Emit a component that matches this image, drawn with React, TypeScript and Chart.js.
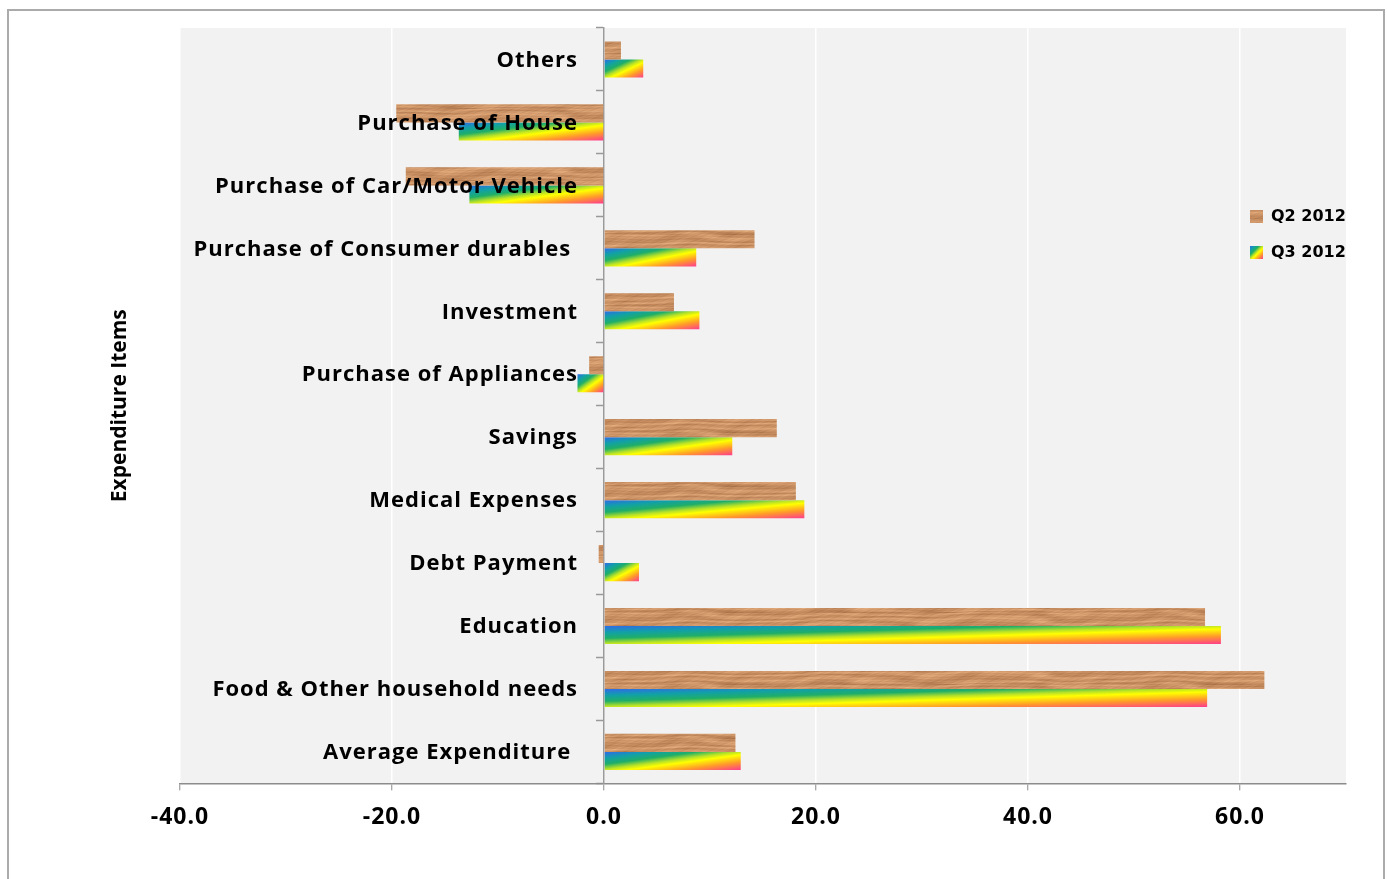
import React, { useEffect, useRef } from "react";
import { Chart, registerables } from "chart.js";

Chart.register(...registerables);

// Expenditure items, listed top to bottom
const categories = [
  "Others",
  "Purchase of House",
  "Purchase of Car/Motor Vehicle",
  "Purchase of Consumer durables ",
  "Investment",
  "Purchase of Appliances",
  "Savings",
  "Medical Expenses",
  "Debt Payment",
  "Education",
  "Food & Other household needs",
  "Average Expenditure ",
];

const q2_2012 = [1.6, -19.6, -18.7, 14.2, 6.6, -1.4, 16.3, 18.1, -0.5, 56.7, 62.3, 12.4];
const q3_2012 = [3.7, -13.7, -12.7, 8.7, 9.0, -2.5, 12.1, 18.9, 3.3, 58.2, 56.9, 12.9];

const seriesNames = ["Q2 2012", "Q3 2012"];
const xTickValues = [-40, -20, 0, 20, 40, 60];

const LABEL_FONT = "'Open Sans', 'DejaVu Sans', sans-serif";

// Rainbow fill stops (blue -> teal -> green -> yellow -> orange -> pink)
const rainbowStops: [number, string][] = [
  [0, "#2f6be8"],
  [0.18, "#11a0a8"],
  [0.34, "#1fae68"],
  [0.48, "#b8e228"],
  [0.58, "#ffff00"],
  [0.78, "#ff9a2a"],
  [1, "#ff3c8e"],
];

// Diagonal gradient stretched to the box, like a shape-scaled linear fill
function diagGradient(ctx: CanvasRenderingContext2D, l: number, t: number, w: number, h: number) {
  const k = w > 0 && h > 0 ? (2 * w * h) / (w * w + h * h) : 1;
  const g = ctx.createLinearGradient(l, t, l + h * k, t + w * k);
  rainbowStops.forEach(([o, c]) => g.addColorStop(o, c));
  return g;
}

// Seamless wood-grain texture built from periodic sine streaks
function makeWood(): CanvasPattern | string {
  const W = 480;
  const H = 18;
  const c = document.createElement("canvas");
  c.width = W;
  c.height = H;
  const g = c.getContext("2d");
  if (!g) return "#cb9468";
  const img = g.createImageData(W, H);
  const f = (n: number) => (2 * Math.PI * n) / W;
  for (let y = 0; y < H; y++) {
    for (let x = 0; x < W; x++) {
      const warp = Math.sin(x * f(3)) * 1.7 + Math.sin(x * f(1) + y * 0.3) * 2.1 + Math.sin(x * f(7) + 1.3) * 0.6;
      const grain = Math.sin(y * 0.95 + warp);
      const streak = Math.sin(y * 2.3 + Math.sin(x * f(5)) * 1.4);
      const fine = Math.sin(x * f(61) + y * 2.1) * Math.sin(x * f(9) + y * 0.73);
      const blot = Math.sin(x * f(13) + y * 0.4) * Math.sin(x * f(4) + 0.7);
      let v = 0.62 + 0.17 * grain + 0.08 * streak + 0.08 * fine + 0.09 * blot;
      if (y === 0 || y === H - 1) v -= 0.14;
      v = Math.max(0, Math.min(1, v));
      const i = (y * W + x) * 4;
      img.data[i] = 160 + v * (230 - 160);
      img.data[i + 1] = 104 + v * (174 - 104);
      img.data[i + 2] = 62 + v * (126 - 62);
      img.data[i + 3] = 255;
    }
  }
  g.putImageData(img, 0, 0);
  return g.createPattern(c, "repeat") || "#cb9468";
}

export default function App() {
  const canvasRef = useRef<HTMLCanvasElement | null>(null);

  useEffect(() => {
    const canvas = canvasRef.current;
    if (!canvas) return;
    const wood = makeWood();

    const rainbowFill = {
      id: "rainbowFill",
      beforeDatasetDraw(chart: any, args: any) {
        if (args.index !== 1) return;
        const ctx = chart.ctx;
        args.meta.data.forEach((el: any) => {
          const p = el.getProps(["x", "y", "base", "height"], true);
          const l = Math.min(p.x, p.base);
          const r = Math.max(p.x, p.base);
          const t = p.y - p.height / 2;
          el.options = { ...el.options, backgroundColor: diagGradient(ctx, l, t, r - l, p.height) };
        });
      },
    };

    const decor = {
      id: "decor",
      beforeDraw(chart: any) {
        const { ctx, chartArea: a } = chart;
        ctx.save();
        ctx.fillStyle = "#f2f2f2";
        ctx.fillRect(a.left, a.top, a.right - a.left, a.bottom - a.top);
        ctx.restore();
        // slightly tracked-out axis numbers
        (ctx as any).letterSpacing = "1px";
      },
      // category names sit just left of the zero line, over the bars
      afterDatasetsDraw(chart: any) {
        const { ctx } = chart;
        const xs = chart.scales.x;
        const ys = chart.scales.y;
        const x0 = xs.getPixelForValue(0) - 26;
        ctx.save();
        ctx.fillStyle = "#000";
        ctx.font = `bold 22px ${LABEL_FONT}`;
        (ctx as any).letterSpacing = "1px";
        ctx.textAlign = "right";
        ctx.textBaseline = "middle";
        categories.forEach((name, i) => {
          ctx.fillText(name, x0, ys.getPixelForValue(i) + 1);
        });
        ctx.restore();
      },
      afterDraw(chart: any) {
        const { ctx, chartArea: a } = chart;
        ctx.save();
        (ctx as any).letterSpacing = "0px";
        // axis title
        ctx.translate(120, (a.top + a.bottom) / 2);
        ctx.rotate(-Math.PI / 2);
        ctx.fillStyle = "#000";
        ctx.font = `bold 21px ${LABEL_FONT}`;
        ctx.textAlign = "center";
        ctx.textBaseline = "middle";
        ctx.fillText("Expenditure Items", 0, 0);
        ctx.restore();

        // legend
        ctx.save();
        (ctx as any).letterSpacing = "0px";
        const lx = 1250;
        const rows = [216, 252];
        ctx.font = "bold 16px 'DejaVu Sans', sans-serif";
        ctx.textBaseline = "middle";
        ctx.textAlign = "left";
        rows.forEach((cy, i) => {
          const s = 13;
          const top = cy - 6;
          ctx.fillStyle = i === 0 ? (wood as any) : diagGradient(ctx, lx, top, s, s);
          ctx.fillRect(lx, top, s, s);
          ctx.fillStyle = "#000";
          ctx.fillText(seriesNames[i], lx + 21, cy + 1);
        });
        ctx.restore();
        (ctx as any).letterSpacing = "0px";
      },
    };

    const chart = new Chart(canvas, {
      type: "bar",
      data: {
        labels: categories,
        datasets: [
          {
            label: seriesNames[0],
            data: q2_2012,
            backgroundColor: wood as any,
            borderWidth: 0,
            categoryPercentage: 0.575,
            barPercentage: 1,
          },
          {
            label: seriesNames[1],
            data: q3_2012,
            backgroundColor: () => "#ffd000",
            borderWidth: 0,
            categoryPercentage: 0.575,
            barPercentage: 1,
          },
        ],
      },
      options: {
        indexAxis: "y",
        animation: false,
        responsive: false,
        maintainAspectRatio: false,
        layout: { padding: { left: 180, top: 28, right: 41, bottom: 35 } },
        plugins: {
          legend: { display: false },
          tooltip: { enabled: false },
        },
        scales: {
          x: {
            type: "linear",
            position: "bottom",
            min: -40,
            max: 70,
            afterBuildTicks: (scale: any) => {
              scale.ticks = xTickValues.map((v) => ({ value: v }));
            },
            grid: {
              color: "#ffffff",
              lineWidth: 1.5,
              tickColor: "#8c8c8c",
              tickLength: 7,
              tickWidth: 1,
            },
            border: { display: true, color: "#8c8c8c", width: 1.5 },
            ticks: {
              color: "#000",
              padding: 13,
              font: { family: LABEL_FONT, size: 23, weight: "bold" },
              callback: (v: any) => Number(v).toFixed(1),
            },
          },
          y: {
            type: "category",
            position: { x: 0 } as any,
            z: 1,
            offset: true,
            grid: {
              drawOnChartArea: false,
              offset: true,
              tickColor: "#999999",
              tickLength: 7,
              tickWidth: 1.5,
            },
            border: { display: true, color: "#9a9a9a", width: 1.5 },
            ticks: { display: false, autoSkip: false },
          },
        },
      },
      plugins: [rainbowFill, decor],
    });

    return () => chart.destroy();
  }, []);

  return (
    <div style={{ position: "fixed", left: 0, top: 0, width: 1387, height: 879, background: "#fff" }}>
      <div
        style={{
          position: "absolute",
          left: 7,
          top: 9,
          width: 1374,
          height: 900,
          border: "2px solid #ababab",
        }}
      />
      <canvas
        ref={canvasRef}
        width={1387}
        height={879}
        style={{ position: "absolute", left: 0, top: 0, width: 1387, height: 879 }}
      />
    </div>
  );
}
